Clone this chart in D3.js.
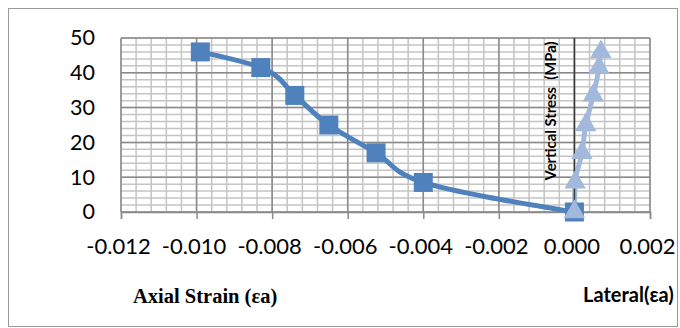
<!DOCTYPE html>
<html>
<head>
<meta charset="utf-8">
<script src="https://cdn.jsdelivr.net/npm/d3@7/dist/d3.min.js"></script>
<style>
  html, body { margin: 0; padding: 0; background: #fff; }
  svg { display: block; }
</style>
</head>
<body>
<svg id="chart" width="680" height="328"></svg>
<script>
// stress-strain chart: axial strain (squares) and lateral strain (triangles)

const stress = [0, 8.5, 17, 25, 33.5, 41.5, 46];
const axialStrain = [0, -0.0040, -0.00525, -0.0065, -0.0074, -0.0083, -0.0099];
const lateralStrain = [0, 0.00002, 0.0002, 0.0003, 0.0005, 0.00065, 0.0007];
const xTicks = [-0.012, -0.010, -0.008, -0.006, -0.004, -0.002, 0.000, 0.002];
const yTicks = [0, 10, 20, 30, 40, 50];

const axialColor = "#4f81bd";
const lateralColor = "#a2b9dc";

const svg = d3.select("#chart");

// outer chart border
svg.append("rect")
  .attr("x", 8.5).attr("y", 8.5)
  .attr("width", 669).attr("height", 318)
  .attr("fill", "none").attr("stroke", "#9a9a9a").attr("stroke-width", 1);

const x = d3.scaleLinear().domain([-0.012, 0.002]).range([121, 650]);
const y = d3.scaleLinear().domain([0, 50]).range([212, 38]);

// minor grid
const minorX = d3.range(-0.012, 0.0020001, 0.0004);
const minorY = d3.range(0, 50.001, 2);
const grid = svg.append("g");
grid.selectAll("line.mx").data(minorX).join("line")
  .attr("x1", d => x(d)).attr("x2", d => x(d))
  .attr("y1", y(0)).attr("y2", y(50))
  .attr("stroke", "#c4c4c4").attr("stroke-width", 1.5);
grid.selectAll("line.my").data(minorY).join("line")
  .attr("y1", d => y(d)).attr("y2", d => y(d))
  .attr("x1", x(-0.012)).attr("x2", x(0.002))
  .attr("stroke", "#c4c4c4").attr("stroke-width", 1.5);

// major grid
grid.selectAll("line.Mx").data(xTicks).join("line")
  .attr("x1", d => x(d)).attr("x2", d => x(d))
  .attr("y1", y(0)).attr("y2", y(50))
  .attr("stroke", "#8a8a8a").attr("stroke-width", 1.5);
grid.selectAll("line.My").data(yTicks).join("line")
  .attr("y1", d => y(d)).attr("y2", d => y(d))
  .attr("x1", x(-0.012)).attr("x2", x(0.002))
  .attr("stroke", "#8a8a8a").attr("stroke-width", 1.5);

// x axis
const xAxis = svg.append("g")
  .attr("transform", `translate(0,${y(0)})`)
  .call(d3.axisBottom(x).tickValues(xTicks).tickFormat(d3.format(".3f")).tickSize(7).tickPadding(19));
xAxis.select(".domain").attr("stroke", "#8a8a8a").attr("stroke-width", 1.5);
xAxis.selectAll(".tick line").attr("stroke", "#8a8a8a").attr("stroke-width", 1.5);
xAxis.selectAll("text")
  .attr("font-family", "Lato, sans-serif").attr("font-size", 22).attr("fill", "#000")
  .text(d => d3.format(".3f")(d).replace("\u2212", "-"))
  .attr("dx", -3);

// y axis labels (low position)
const yAxis = svg.append("g")
  .attr("transform", `translate(${x(-0.012)},0)`)
  .call(d3.axisLeft(y).tickValues(yTicks).tickSize(0).tickPadding(26));
yAxis.select(".domain").remove();
yAxis.selectAll("text")
  .attr("font-family", "Lato, sans-serif").attr("font-size", 21.5).attr("fill", "#000");

// lines
const lateralPts = stress.map((s, i) => [lateralStrain[i], s]);
const axialPts = stress.map((s, i) => [axialStrain[i], s]);
const line = d3.line().x(d => x(d[0])).y(d => y(d[1])).curve(d3.curveMonotoneY);

svg.append("path").datum(lateralPts)
  .attr("d", line).attr("fill", "none")
  .attr("stroke", lateralColor).attr("stroke-width", 5);

// vertical axis line at zero strain
svg.append("line")
  .attr("x1", x(0)).attr("x2", x(0))
  .attr("y1", y(50)).attr("y2", y(0))
  .attr("stroke", "#3a3a3a").attr("stroke-width", 1.5);

svg.append("path").datum(axialPts)
  .attr("d", line).attr("fill", "none")
  .attr("stroke", axialColor).attr("stroke-width", 5);

svg.append("g").selectAll("rect").data(axialPts).join("rect")
  .attr("x", d => x(d[0]) - 9.5).attr("y", d => y(d[1]) - 9.5)
  .attr("width", 19).attr("height", 19)
  .attr("fill", axialColor);

const tri = d3.symbol().type(d3.symbolTriangle).size(200);
svg.append("g").selectAll("path").data(lateralPts).join("path")
  .attr("transform", d => `translate(${x(d[0])},${y(d[1])})`)
  .attr("d", tri)
  .attr("fill", lateralColor);

// titles
svg.append("text")
  .attr("transform", `translate(556,${111}) rotate(-90)`)
  .attr("text-anchor", "middle")
  .attr("font-family", "Lato, sans-serif").attr("font-weight", "bold").attr("font-size", 14.8)
  .attr("fill", "#000")
  .attr("xml:space", "preserve")
  .text("Vertical Stress  (MPa)");

svg.append("text")
  .attr("x", 133).attr("y", 303)
  .attr("font-family", "'Liberation Serif', 'Times New Roman', serif").attr("font-weight", "bold")
  .attr("font-size", 20.5).attr("fill", "#000")
  .text("Axial Strain (\u03b5a)");

svg.append("text")
  .attr("x", 583).attr("y", 302)
  .attr("font-family", "Lato, sans-serif").attr("font-weight", "bold")
  .attr("font-size", 20).attr("fill", "#000")
  .text("Lateral(\u03b5a)");
</script>
</body>
</html>
